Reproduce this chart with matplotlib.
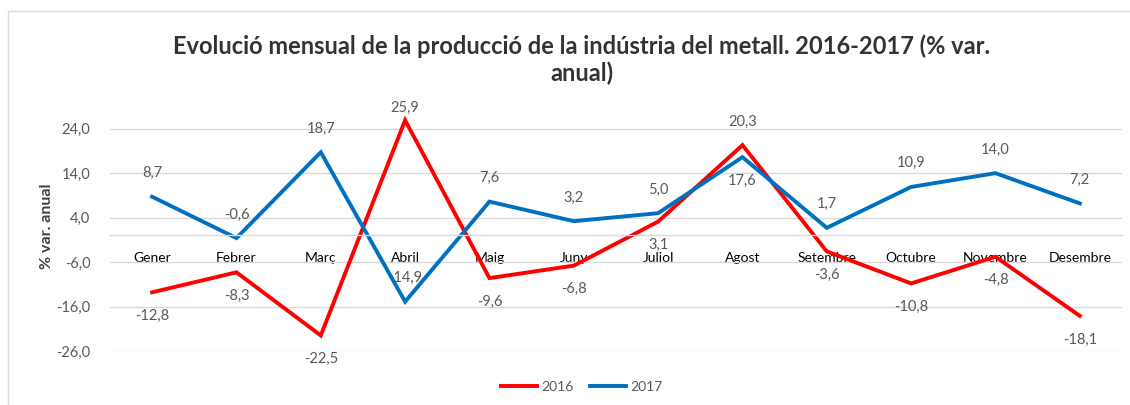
import matplotlib.pyplot as plt
from matplotlib.patches import Rectangle

# Dades: variació anual (%) de la producció del metall
mesos = ['Gener', 'Febrer', 'Març', 'Abril', 'Maig', 'Juny', 'Juliol',
         'Agost', 'Setembre', 'Octubre', 'Novembre', 'Desembre']
var_2016 = [-12.8, -8.3, -22.5, 25.9, -9.6, -6.8, 3.1, 20.3, -3.6, -10.8, -4.8, -18.1]
var_2017 = [8.7, -0.6, 18.7, -14.9, 7.6, 3.2, 5.0, 17.6, 1.7, 10.9, 14.0, 7.2]

# posició de l'etiqueta: 1 = a sobre, -1 = a sota
pos_2016 = [-1, -1, -1, 1, -1, -1, -1, 1, -1, -1, -1, -1]
pos_2017 = [1, 1, 1, 1, 1, 1, 1, -1, 1, 1, 1, 1]

plt.rcParams['font.family'] = ['Lato', 'DejaVu Sans']
text_color = '#595959'

fig = plt.figure(figsize=(11.3, 4.05), dpi=100)
ax = fig.add_axes([0.0973, 0.1333, 0.8956, 0.6148])

x = list(range(len(mesos)))
ax.plot(x, var_2016, color='#FF0000', lw=2.8, label='2016', solid_joinstyle='miter')
ax.plot(x, var_2017, color='#0070C0', lw=2.8, label='2017', solid_joinstyle='miter')

def etiquetes(vals, pos):
    for i, (v, p) in enumerate(zip(vals, pos)):
        off = 17 * p
        if v > 24:  # l'etiqueta de dalt queda enganxada al límit del gràfic
            off = 9
        ax.annotate(f'{v:.1f}'.replace('.', ','), (i, v), xytext=(0, off),
                    textcoords='offset points', ha='center', va='center',
                    fontsize=10.5, color=text_color, annotation_clip=False)

etiquetes(var_2016, pos_2016)
etiquetes(var_2017, pos_2017)

ax.set_xlim(-0.5, len(mesos) - 0.5)
ax.set_ylim(-26, 30)
yt = [-26, -16, -6, 4, 14, 24]
ax.set_yticks(yt)
ax.set_yticklabels([f'{v:.1f}'.replace('.', ',') for v in yt], fontsize=10.5, color=text_color)
ax.set_xticks(x)
ax.set_xticklabels(mesos, fontsize=10.5, color=text_color)
ax.tick_params(axis='both', length=0)
ax.tick_params(axis='x', pad=12)
ax.tick_params(axis='y', pad=14)

ax.grid(axis='y', color='#d9d9d9', lw=1)
ax.set_axisbelow(True)
for s in ['top', 'right', 'left']:
    ax.spines[s].set_visible(False)
ax.spines['bottom'].set_position(('data', 0))
ax.spines['bottom'].set_color('#d9d9d9')
ax.spines['bottom'].set_linewidth(1)

ax.set_ylabel('% var. anual', fontsize=11.5, fontweight='bold', color='#404040', labelpad=2)

fig.suptitle('Evolució mensual de la producció de la indústria del metall. 2016-2017 (% var.\nanual)',
             x=0.515, y=0.915, fontsize=17, fontweight='bold', color='#333333', linespacing=1.2)

leg = fig.legend(loc='center', bbox_to_anchor=(0.515, 0.045), ncol=2, frameon=False,
                 fontsize=10, handlelength=2.6, columnspacing=1.2, handletextpad=0.3)
for t in leg.get_texts():
    t.set_color(text_color)

# marc del gràfic
fig.patches.append(Rectangle((0.007, -0.05), 1.1, 1.024, transform=fig.transFigure,
                             fill=False, edgecolor='#d9d9d9', lw=1))

fig.savefig('out.png', dpi=100)
